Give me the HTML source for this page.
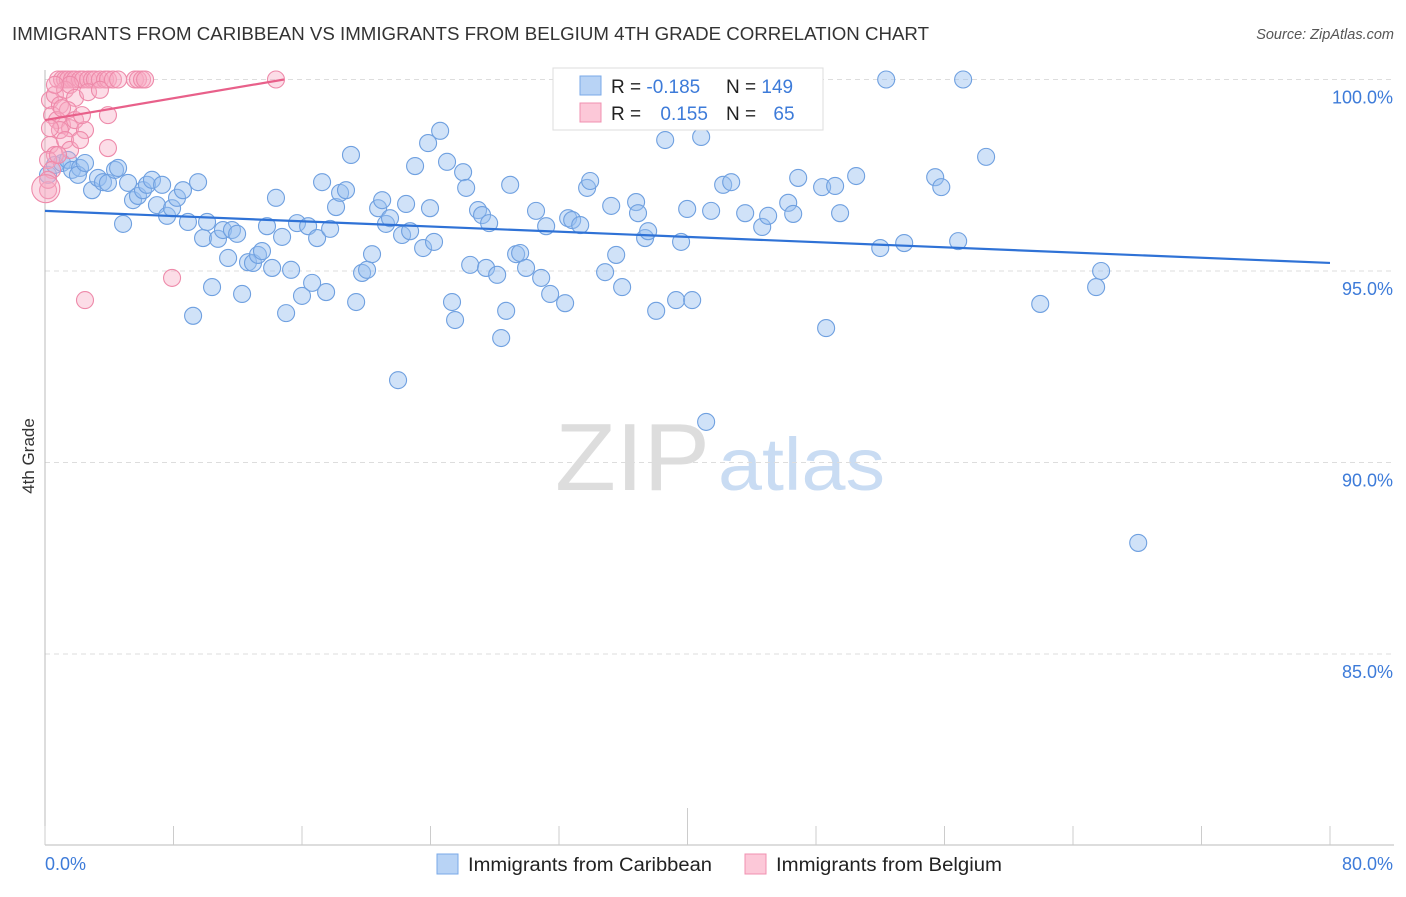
<!DOCTYPE html>
<html><head><meta charset="utf-8"><style>
body{margin:0;background:#fff;font-family:"Liberation Sans",sans-serif;}
svg text{font-family:"Liberation Sans",sans-serif;}
</style></head><body>
<svg id="chart" width="1406" height="892">
<text x="12" y="40" font-size="18" fill="#333" textLength="917" lengthAdjust="spacingAndGlyphs">IMMIGRANTS FROM CARIBBEAN VS IMMIGRANTS FROM BELGIUM 4TH GRADE CORRELATION CHART</text>
<text x="1394" y="39" font-size="14.5" fill="#555" font-style="italic" text-anchor="end">Source: ZipAtlas.com</text>
<text transform="translate(34,456) rotate(-90)" font-size="17" fill="#333" text-anchor="middle">4th Grade</text>
<g><text x="555" y="490" font-size="96" fill="#ddd" font-family="Liberation Serif" textLength="155" lengthAdjust="spacingAndGlyphs">ZIP</text><text x="718" y="490" font-size="74" fill="#c9dcf3" textLength="167" lengthAdjust="spacingAndGlyphs">atlas</text></g>
<g id="grid"></g><g id="axes"></g><g id="trends"></g><g id="pts"></g>
<g>
<rect x="553" y="68" width="270" height="62" fill="#fff" stroke="#ddd"/>
<rect x="580" y="76" width="21" height="19" fill="#b8d3f5" stroke="#7aaae8"/>
<rect x="580" y="103" width="21" height="19" fill="#fcc8d8" stroke="#f090b0"/>
<text x="611" y="93" font-size="19" fill="#222">R = <tspan fill="#3d7bd9">-0.185</tspan></text>
<text x="726" y="93" font-size="19" fill="#222">N = <tspan fill="#3d7bd9">149</tspan></text>
<text x="611" y="120" font-size="19" fill="#222">R = <tspan fill="#3d7bd9" dx="14">0.155</tspan></text>
<text x="726" y="120" font-size="19" fill="#222">N = <tspan fill="#3d7bd9" dx="12">65</tspan></text>
</g>
<g>
<rect x="437" y="854" width="21" height="20" fill="#b8d3f5" stroke="#7aaae8"/>
<text x="468" y="871" font-size="19" fill="#222" textLength="244" lengthAdjust="spacingAndGlyphs">Immigrants from Caribbean</text>
<rect x="745" y="854" width="21" height="20" fill="#fcc8d8" stroke="#f090b0"/>
<text x="776" y="871" font-size="19" fill="#222" textLength="226" lengthAdjust="spacingAndGlyphs">Immigrants from Belgium</text>
</g>
</svg>
<script>
const yTicks=[100,95,90,85];
const yTickLabels=["100.0%","95.0%","90.0%","85.0%"];
const xTicks=[0,8,16,24,32,40,48,56,64,72,80];
const xEndLabels=["0.0%","80.0%"];
const blueX=[0.19,0.62,1.06,1.43,1.68,2.18,2.05,2.49,2.93,3.30,3.61,3.92,4.36,4.55,4.86,5.17,5.48,5.79,6.10,6.35,6.66,6.97,7.29,7.60,7.91,8.22,8.59,8.90,9.53,9.22,9.84,10.09,10.40,10.77,11.08,11.40,11.64,11.96,12.27,12.64,12.95,13.26,13.51,13.82,14.14,14.38,14.76,15.01,15.32,15.69,16.00,16.38,16.63,16.94,17.25,17.50,17.75,18.12,18.37,18.74,19.05,19.37,19.74,20.05,20.36,20.74,20.99,21.23,21.48,21.98,22.23,22.48,22.73,23.04,23.54,23.85,23.97,24.22,24.60,25.03,25.34,25.53,26.03,26.22,26.47,26.96,27.21,27.46,27.65,28.15,28.40,28.71,28.96,29.33,29.58,29.95,30.57,30.89,31.20,31.45,32.38,32.57,32.82,33.32,33.75,33.94,34.87,35.25,35.56,35.93,36.80,36.92,37.36,37.55,38.05,38.61,39.29,39.60,39.98,40.29,40.85,41.16,41.47,42.22,42.72,43.59,44.65,45.02,46.27,46.58,46.89,48.38,48.63,49.19,49.50,50.50,52.00,52.37,53.49,55.42,55.80,56.85,57.16,58.59,61.96,65.44,65.75,68.06];
const blueY=[97.51,97.77,97.82,97.90,97.64,97.69,97.51,97.82,97.11,97.43,97.32,97.30,97.64,97.69,96.23,97.30,96.85,96.96,97.11,97.25,97.38,96.72,97.25,96.44,96.64,96.91,97.11,96.28,97.32,93.83,95.86,96.28,94.58,95.84,96.07,95.34,96.07,95.97,94.40,95.23,95.21,95.42,95.52,96.17,95.08,96.91,95.89,93.90,95.03,96.25,94.35,96.17,94.69,95.86,97.32,94.45,96.10,96.67,97.04,97.11,98.03,94.19,94.95,95.03,95.44,96.64,96.85,96.23,96.38,92.15,95.94,96.75,96.04,97.74,95.60,98.34,96.64,95.76,98.66,97.85,94.19,93.72,97.58,97.17,95.16,96.59,96.46,95.08,96.25,94.90,93.25,93.96,97.25,95.44,95.47,95.08,96.57,94.82,96.17,94.40,94.16,96.38,96.33,96.20,97.17,97.35,94.97,96.70,95.42,94.58,96.80,96.51,95.86,96.04,93.96,98.42,94.24,95.76,96.62,94.24,98.50,91.06,96.57,97.25,97.32,96.51,96.15,96.44,96.78,96.49,97.43,97.19,93.51,97.22,96.51,97.48,95.60,100,95.73,97.45,97.19,95.78,100,97.98,94.14,94.58,95.00,87.90];
const pinkX=[0.81,1.06,1.25,1.43,1.68,1.87,2.18,2.37,2.68,2.93,3.11,3.42,3.74,3.92,4.23,4.55,5.60,5.79,6.04,6.23,14.38,0.31,0.62,0.93,1.25,1.56,1.87,1.43,0.44,0.75,1.06,1.56,1.87,2.49,2.30,2.68,3.42,3.92,3.92,0.31,0.62,0.93,1.25,1.56,0.19,0.44,0.19,2.49,7.91,0.19,0.81,1.06,2.18,0.31,0.62,0.05];
const pinkY=[100,100,100,100,100,100,100,100,100,100,100,100,100,100,100,100,100,100,100,100,100,99.46,99.60,99.33,99.73,99.86,99.52,99.20,99.07,98.94,98.81,98.73,98.94,98.68,99.07,99.67,99.73,99.07,98.21,98.29,98.03,98.68,98.42,98.16,97.90,97.64,97.11,94.24,94.82,97.38,98.03,99.25,98.42,98.73,99.86,97.15];
const blueTrend=[96.57,95.21]; // y at x=0 and x=80
const pinkTrendX=[0,14.88], pinkTrendY=[98.94,100];

const X0=45,X1=1330,Y100=79.5,PER=38.3;
const sx=v=>X0+(v/80)*(X1-X0);
const sy=v=>Y100+(100-v)*PER;
const NS="http://www.w3.org/2000/svg";
function mk(tag,parent,attrs){const e=document.createElementNS(NS,tag);for(const k in attrs)e.setAttribute(k,attrs[k]);document.getElementById(parent).appendChild(e);return e;}

yTicks.forEach((t,i)=>{
 const l=mk('line','grid',{x1:X0,x2:1394,y1:sy(t),y2:sy(t),stroke:'#ddd','stroke-dasharray':'5,4'});
 
 
 const tx=mk('text','grid',{x:1393,y:sy(t)+24,'font-size':18,fill:'#3d7bd9','text-anchor':'end'});
 tx.textContent=yTickLabels[i];
 
 
});
let a=mk('line','axes',{x1:X0,x2:X0,y1:70,y2:845,stroke:'#bbb'});


a=mk('line','axes',{x1:X0,x2:1394,y1:845,y2:845,stroke:'#bbb'});


xTicks.forEach((t,i)=>{
 const tk=mk('line','axes',{x1:sx(t),x2:sx(t),y1:(i==5?808:826),y2:845,stroke:'#ccc'});
 
 
});
[[0,45,'start'],[80,1393,'end']].forEach((p,i)=>{
 const tx=mk('text','axes',{x:p[1],y:870,'font-size':18,fill:'#3d7bd9','text-anchor':p[2]});
 tx.textContent=xEndLabels[i];
 
 
});
blueX.forEach((v,i)=>{
 const c=mk('circle','pts',{cx:sx(v),cy:sy(blueY[i]),r:8.5,fill:'rgba(150,190,240,0.45)',stroke:'#6fa0e0','stroke-width':1.1});
 
 
});
pinkX.forEach((v,i)=>{
 const c=mk('circle','pts',{cx:sx(v),cy:sy(pinkY[i]),r:(i==pinkX.length-1?14:8.5),fill:'rgba(248,170,195,0.4)',stroke:'#ee8aaa','stroke-width':1.1});
 
 
});
let tl=mk('line','trends',{x1:sx(0),y1:sy(blueTrend[0]),x2:sx(80),y2:sy(blueTrend[1]),stroke:'#2f72d6','stroke-width':2.2});


tl=mk('line','trends',{x1:sx(pinkTrendX[0]),y1:sy(pinkTrendY[0]),x2:sx(pinkTrendX[1]),y2:sy(pinkTrendY[1]),stroke:'#e8608a','stroke-width':2.2});


document.getElementById('trends').parentNode.appendChild(document.getElementById('trends'));
</script>
</body></html>
